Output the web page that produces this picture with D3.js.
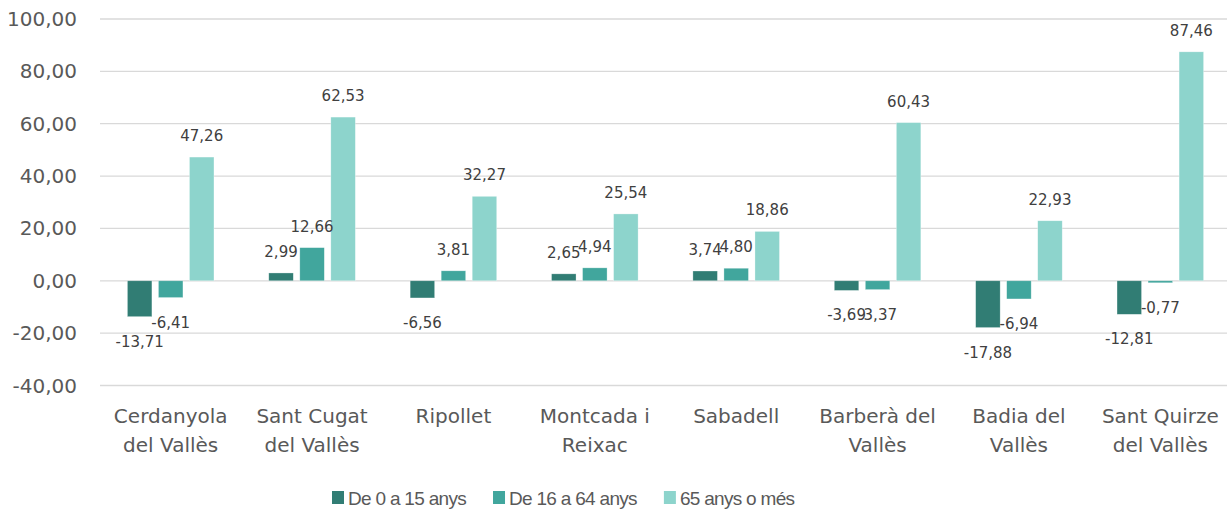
<!DOCTYPE html>
<html>
<head>
<meta charset="utf-8">
<script src="https://cdn.jsdelivr.net/npm/d3@7"></script>
<style>
  body { margin: 0; background: #fff; }
  svg { display: block; }
</style>
</head>
<body>
<div class="container"></div>
<script>
const width = 1227;
const height = 512;

// data
const categories = ["Cerdanyola del Vallès", "Sant Cugat del Vallès", "Ripollet", "Montcada i Reixac",
  "Sabadell", "Barberà del Vallès", "Badia del Vallès", "Sant Quirze del Vallès"];
const tickLines = [["Cerdanyola", "del Vallès"], ["Sant Cugat", "del Vallès"], ["Ripollet"],
  ["Montcada i", "Reixac"], ["Sabadell"], ["Barberà del", "Vallès"], ["Badia del", "Vallès"],
  ["Sant Quirze", "del Vallès"]];
const seriesNames = ["De 0 a 15 anys", "De 16 a 64 anys", "65 anys o més"];
const young = [-13.71, 2.99, -6.56, 2.65, 3.74, -3.69, -17.88, -12.81];
const adult = [-6.41, 12.66, 3.81, 4.94, 4.80, -3.37, -6.94, -0.77];
const elder = [47.26, 62.53, 32.27, 25.54, 18.86, 60.43, 22.93, 87.46];
const yTicks = [-40, -20, 0, 20, 40, 60, 80, 100];

const colors = ["#317d74", "#41a69d", "#8dd4cc"];
const values = [young, adult, elder];

const locale = d3.formatLocale({decimal: ",", thousands: ".", grouping: [3], currency: ["", "€"], minus: "-"});
const fmt = locale.format(".2f");

const margin = {left: 100, right: -4, top: 19, bottom: 126.5};

const x0 = d3.scaleBand()
  .domain(categories)
  .range([margin.left, width - margin.right]);

const x1 = d3.scaleBand()
  .domain(seriesNames)
  .range([27.4, x0.bandwidth() - 27.4])
  .paddingInner(0.21);

const y = d3.scaleLinear()
  .domain([-40, 100])
  .range([height - margin.bottom, margin.top]);

const svg = d3.select(".container")
  .append("svg")
  .attr("width", width)
  .attr("height", height);

// gridlines
svg.append("g")
  .selectAll("line")
  .data(yTicks)
  .join("line")
    .attr("x1", margin.left)
    .attr("x2", width)
    .attr("y1", d => y(d))
    .attr("y2", d => y(d))
    .attr("stroke", "#d9d9d9")
    .attr("stroke-width", 1.3);

// y labels
svg.append("g")
  .style("font", "20px 'DejaVu Sans'")
  .attr("fill", "#595959")
  .attr("text-anchor", "end")
  .selectAll("text")
  .data(yTicks)
  .join("text")
    .attr("x", 77)
    .attr("y", d => y(d))
    .attr("dominant-baseline", "central")
    .text(d => fmt(d));

// flatten to rows
const rows = [];
categories.forEach((c, i) => {
  seriesNames.forEach((s, j) => {
    rows.push({cat: c, series: s, idx: j, value: values[j][i]});
  });
});

svg.append("g")
  .selectAll("rect")
  .data(rows)
  .join("rect")
    .attr("x", d => x0(d.cat) + x1(d.series))
    .attr("width", x1.bandwidth())
    .attr("y", d => y(Math.max(0, d.value)))
    .attr("height", d => Math.abs(y(d.value) - y(0)))
    .attr("fill", d => colors[d.idx])
    .attr("stroke", "#ffffff")
    .attr("stroke-opacity", 0.5)
    .attr("stroke-width", 0.6);

// value labels
svg.append("g")
  .style("font", "15px 'DejaVu Sans'")
  .attr("fill", "#404040")
  .attr("text-anchor", "middle")
  .selectAll("text")
  .data(rows)
  .join("text")
    .attr("x", d => x0(d.cat) + x1(d.series) + x1.bandwidth() / 2)
    .attr("y", d => d.value >= 0 ? y(d.value) - 16 : y(d.value) + 30)
    .text(d => fmt(d.value));

// category labels
const cat = svg.append("g")
  .style("font", "20px 'DejaVu Sans'")
  .attr("fill", "#595959")
  .attr("text-anchor", "middle")
  .selectAll("text")
  .data(categories)
  .join("text")
    .attr("x", d => x0(d) + x0.bandwidth() / 2)
    .attr("y", 423);

cat.selectAll("tspan")
  .data((d, i) => tickLines[i])
  .join("tspan")
    .attr("x", function() { return this.parentNode.getAttribute("x"); })
    .attr("dy", (d, i) => i === 0 ? 0 : 29)
    .text(d => d);

// legend
const legend = svg.append("g")
  .style("font", "19px 'Liberation Sans'")
  .style("letter-spacing", "-0.7px")
  .attr("fill", "#595959");

let lx = 332;
seriesNames.forEach((s, i) => {
  legend.append("rect")
    .attr("x", lx)
    .attr("y", 491)
    .attr("width", 12)
    .attr("height", 13)
    .attr("fill", colors[i]);
  const t = legend.append("text")
    .attr("x", lx + 16)
    .attr("y", 504.5)
    .text(s);
  lx += 16 + t.node().getComputedTextLength() + 27;
});
</script>
</body>
</html>
